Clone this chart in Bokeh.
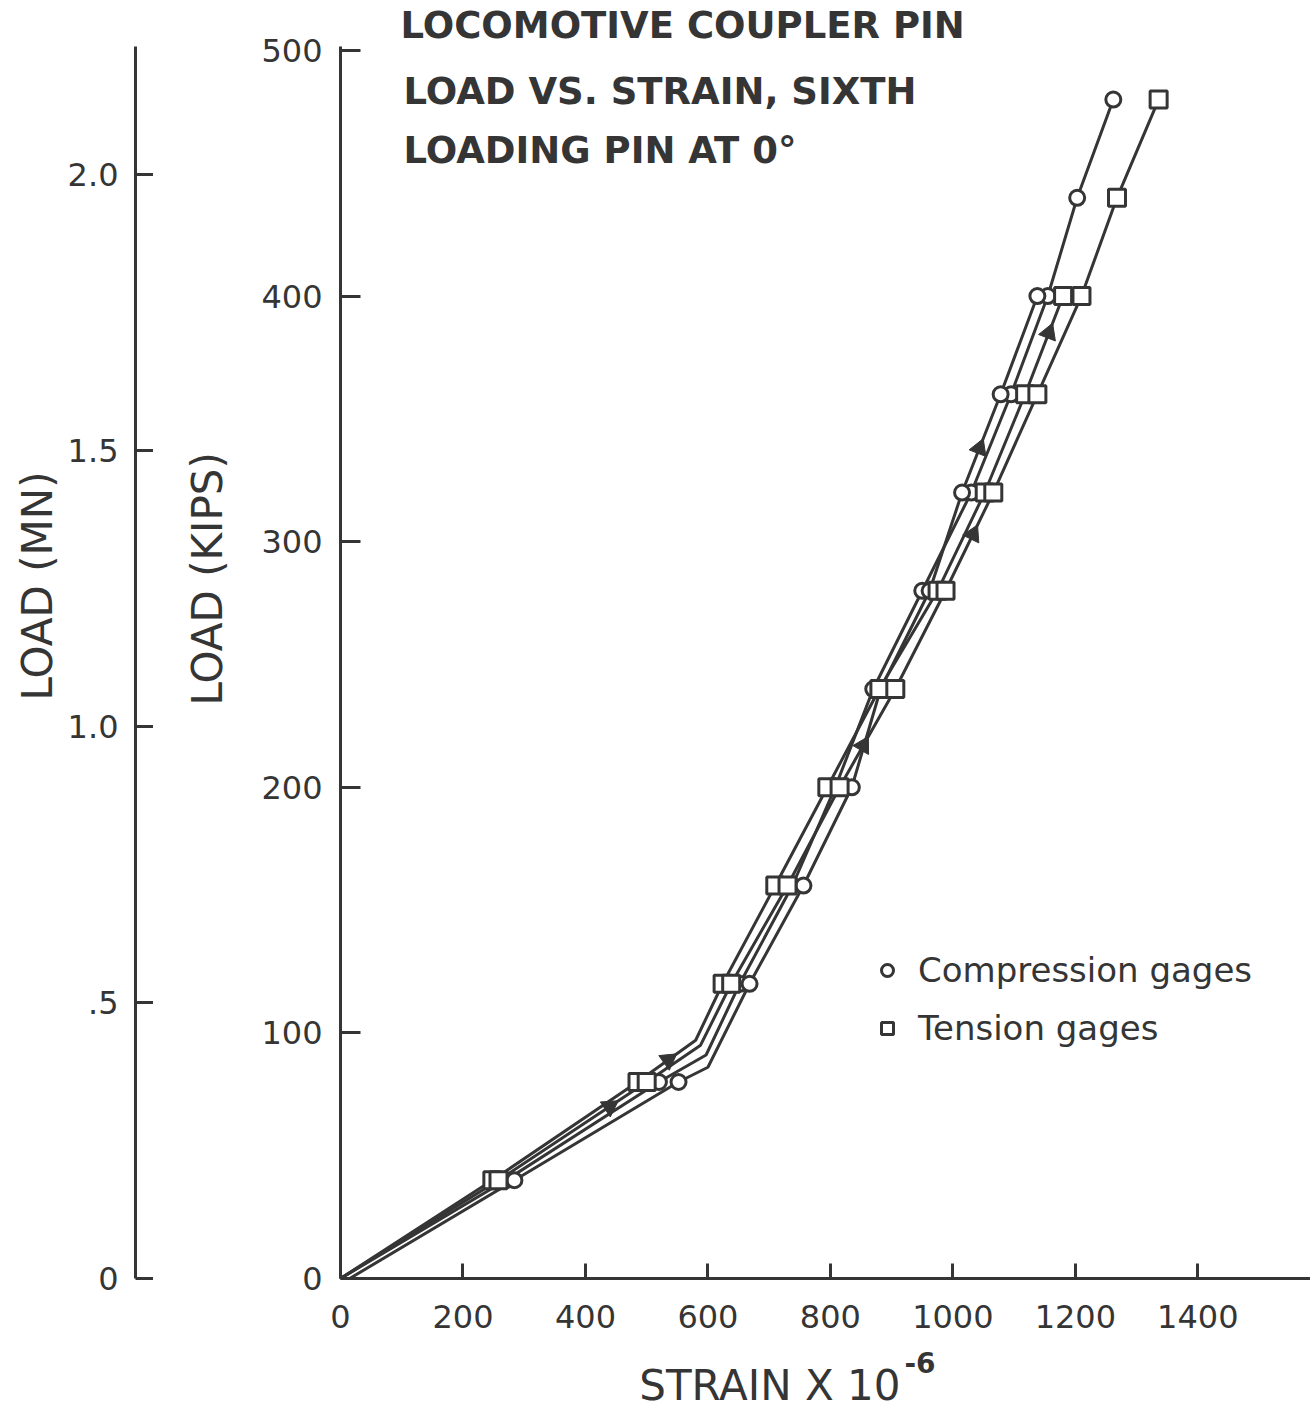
import math
from bokeh.plotting import figure
from bokeh.models import Range1d, FixedTicker, Label, Legend, LegendItem, Title
from bokeh.layouts import row, column
from bokeh.embed import file_html
from bokeh.resources import INLINE

# ---------------- data ----------------
# compression gage 1 (continues to 480 kips)
c1_strain = [0, 270, 520, 597, 652, 738, 808, 870, 950, 1030, 1095, 1155, 1203, 1262]
c1_load = [0, 40, 80, 91, 120, 160, 200, 240, 280, 320, 360, 400, 440, 480]
# compression gage 2
c2_strain = [15, 284, 552, 600, 668, 756, 835, 882, 962, 1015, 1078, 1138]
c2_load = [0, 40, 80, 86, 120, 160, 200, 240, 280, 320, 360, 400]
# tension gage 1
t1_strain = [0, 248, 485, 580, 624, 710, 795, 880, 975, 1052, 1118, 1180]
t1_load = [0, 40, 80, 97, 120, 160, 200, 240, 280, 320, 360, 400]
# tension gage 2 (continues to 480 kips)
t2_strain = [0, 258, 500, 588, 638, 730, 815, 906, 988, 1066, 1138, 1210, 1268, 1336]
t2_load = [0, 40, 80, 95, 120, 160, 200, 240, 280, 320, 360, 400, 440, 480]

# loading-direction arrowheads: which curve and at which load
arrow_series = ["t2", "t1", "t2", "t2", "c2", "t1"]
arrow_load = [70, 89, 217, 303, 338, 385]

x_ticks = [0, 200, 400, 600, 800, 1000, 1200, 1400]
kip_ticks = [0, 100, 200, 300, 400, 500]
mn_ticks = [0, 0.5, 1.0, 1.5, 2.0]
mn_tick_labels = ["0", ".5", "1.0", "1.5", "2.0"]

title_lines = ["LOCOMOTIVE COUPLER PIN", "LOAD VS. STRAIN, SIXTH", "LOADING PIN AT 0\u00b0"]
x_title = "STRAIN X 10"
x_title_exp = "-6"
kips_title = "LOAD (KIPS)"
mn_title = "LOAD (MN)"

# ---------------- layout constants ----------------
INK = "#353535"
FONT = "DejaVu Sans"
KIPS_PER_MN = 224.809
X_END = 1584
Y_END = 501.6

PAGE_W, PAGE_H = 1310, 1416
FRAME_LEFT_PAGE = 340
FRAME_TOP_PAGE = 46
FRAME_BOTTOM_PAGE = 1278
H = 1340                      # height of the two chart figures
STRIP_H = PAGE_H - H          # text strip below for the x title
B_LEFT = 187
A_W = FRAME_LEFT_PAGE - B_LEFT
B_W = PAGE_W - A_W
A_LEFT = 135
BORDER_TOP = FRAME_TOP_PAGE
BORDER_BOTTOM = H - FRAME_BOTTOM_PAGE

PX_PER_KIP = (FRAME_BOTTOM_PAGE - FRAME_TOP_PAGE) / Y_END
PX_PER_STRAIN = (B_W - B_LEFT) / X_END


def dx(px):
    return (px - FRAME_LEFT_PAGE) / PX_PER_STRAIN


def dy(py):
    return (FRAME_BOTTOM_PAGE - py) / PX_PER_KIP


def style_axis(ax, tick_len, standoff):
    ax.axis_line_width = 3
    ax.axis_line_color = INK
    ax.major_tick_line_width = 3
    ax.major_tick_line_color = INK
    ax.major_tick_in = tick_len
    ax.major_tick_out = 0
    ax.minor_tick_in = 0
    ax.minor_tick_out = 0
    ax.major_label_text_font = FONT
    ax.major_label_text_font_size = "32px"
    ax.major_label_text_color = INK
    ax.major_label_standoff = standoff


def make_title(text, size, align, offset, standoff, bold=False):
    return Title(text=text, align=align, offset=offset, standoff=standoff,
                 text_font=FONT, text_font_size=size, text_color=INK,
                 text_font_style="bold" if bold else "normal")


# ---------------- main figure (kips / strain) ----------------
p = figure(width=B_W, height=H, x_range=Range1d(0, X_END), y_range=Range1d(0, Y_END),
           output_backend="svg", toolbar_location=None,
           min_border_left=B_LEFT, min_border_right=0,
           min_border_top=BORDER_TOP, min_border_bottom=BORDER_BOTTOM,
           background_fill_color="white", border_fill_color="white",
           outline_line_color=None)
p.title = make_title(title_lines[0], "37px", "left", 60, 0, bold=True)
p.grid.visible = False
style_axis(p.xaxis[0], 15, 26)
style_axis(p.yaxis[0], 20, 18)
p.xaxis[0].ticker = FixedTicker(ticks=x_ticks)
p.yaxis[0].ticker = FixedTicker(ticks=kip_ticks)

series = {
    "c1": (c1_strain, c1_load, "circle"),
    "c2": (c2_strain, c2_load, "circle"),
    "t1": (t1_strain, t1_load, "square"),
    "t2": (t2_strain, t2_load, "square"),
}
scatters = {}
for key, (xs, ys, mk) in series.items():
    p.line(xs, ys, line_width=3, line_color=INK)
for key, (xs, ys, mk) in series.items():
    mx = [x for x, y in zip(xs, ys) if y > 0 and y % 40 == 0]
    my = [y for y in ys if y > 0 and y % 40 == 0]
    scatters[key] = p.scatter(mx, my, marker=mk, size=15 if mk == "circle" else 17,
                              fill_color="white", line_color=INK, line_width=3)

# arrowheads placed on their curve
ax_, ay_, aang = [], [], []
for key, L in zip(arrow_series, arrow_load):
    xs, ys, _ = series[key]
    for i in range(len(ys) - 1):
        if ys[i] <= L <= ys[i + 1]:
            f = (L - ys[i]) / (ys[i + 1] - ys[i])
            ax_.append(xs[i] + f * (xs[i + 1] - xs[i]))
            ay_.append(L)
            th = math.atan2((ys[i + 1] - ys[i]) * PX_PER_KIP, (xs[i + 1] - xs[i]) * PX_PER_STRAIN)
            aang.append(th - math.pi / 2)
            break
p.scatter(ax_, ay_, marker="triangle", size=18, angle=aang, fill_color=INK,
          line_color=INK, line_width=1)

# legend
legend = Legend(items=[LegendItem(label="Compression gages", renderers=[scatters["c1"]]),
                       LegendItem(label="Tension gages", renderers=[scatters["t1"]])],
                location=(532, 230), border_line_color=None, background_fill_alpha=0,
                padding=0, margin=0, spacing=18, glyph_width=30, glyph_height=40,
                label_height=40, label_standoff=16, label_text_font=FONT,
                label_text_font_size="34px", label_text_color=INK)
p.add_layout(legend)

# title lines inside the plotting area
for txt, (lx, ly) in zip(title_lines[1:], [(403, 91), (403, 150)]):
    p.add_layout(Label(x=dx(lx), y=dy(ly), text=txt, text_font=FONT, text_font_size="37px",
                       text_font_style="bold", text_color=INK, text_align="left",
                       text_baseline="middle"))

# y axis title
p.add_layout(make_title(kips_title, "42px", "left", 573, 53), "left")

# ---------------- MN axis figure ----------------
pa = figure(width=A_W, height=H, x_range=Range1d(0, 1), y_range=Range1d(0, Y_END / KIPS_PER_MN),
            output_backend="svg", toolbar_location=None, x_axis_location=None,
            min_border_left=A_LEFT, min_border_right=0,
            min_border_top=BORDER_TOP, min_border_bottom=BORDER_BOTTOM,
            background_fill_color="white", border_fill_color="white",
            outline_line_color=None)
pa.grid.visible = False
style_axis(pa.yaxis[0], 20, 17)
pa.yaxis[0].ticker = FixedTicker(ticks=mn_ticks)
pa.yaxis[0].major_label_overrides = {t: s for t, s in zip(mn_ticks, mn_tick_labels)}
pa.add_layout(make_title(mn_title, "42px", "left", 578, 5), "left")

# ---------------- strip with the x axis title (page coordinates) ----------------
pc = figure(width=PAGE_W, height=STRIP_H, x_range=Range1d(0, PAGE_W),
            y_range=Range1d(PAGE_H, H), output_backend="svg", toolbar_location=None,
            x_axis_location=None, y_axis_location=None, min_border=0,
            min_border_left=0, min_border_right=0, min_border_top=0, min_border_bottom=0,
            background_fill_color="white", border_fill_color="white",
            outline_line_color=None)
pc.grid.visible = False
pc.add_layout(Label(x=900, y=1385, text=x_title, text_font=FONT, text_font_size="42px",
                    text_color=INK, text_align="right", text_baseline="middle"))
pc.add_layout(Label(x=904, y=1362, text=x_title_exp, text_font=FONT, text_font_size="28px",
                    text_font_style="bold", text_color=INK, text_align="left",
                    text_baseline="middle"))

layout = column(row(pa, p), pc)
open("out.html", "w").write(file_html(layout, INLINE))
